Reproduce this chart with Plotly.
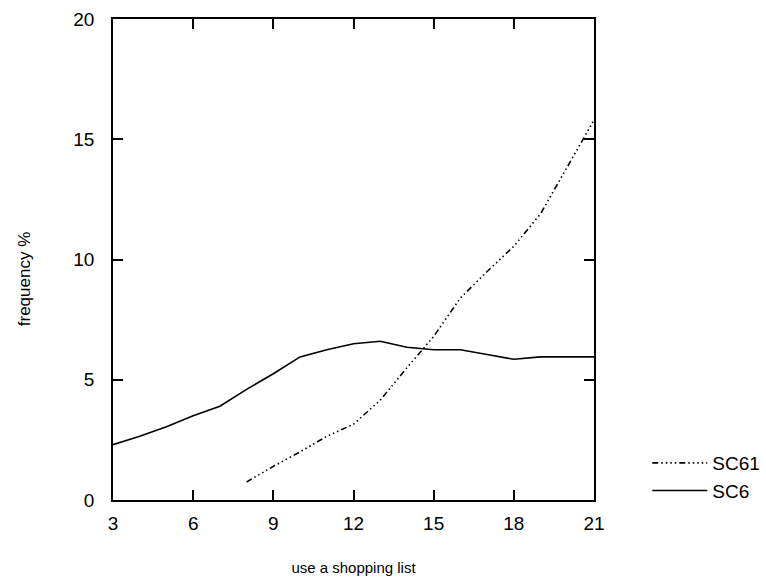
import plotly.graph_objects as go

# shopping-list usage (x) vs. frequency in percent for two samples
sc6_x = [3, 4, 5, 6, 7, 8, 9, 10, 11, 12, 13, 14, 15, 16, 17, 18, 19, 20, 21]
sc6_y = [2.3, 2.65, 3.05, 3.5, 3.9, 4.6, 5.25, 5.95, 6.25, 6.5, 6.6, 6.35,
         6.25, 6.25, 6.05, 5.85, 5.95, 5.95, 5.95]

sc61_x = [8, 9, 10, 11, 12, 13, 14, 15, 16, 17, 18, 19, 20, 21]
sc61_y = [0.75, 1.4, 2.0, 2.65, 3.15, 4.15, 5.5, 6.8, 8.4, 9.5, 10.55, 11.9,
          13.85, 15.8]

x_ticks = [3, 6, 9, 12, 15, 18, 21]
y_ticks = [0, 5, 10, 15, 20]

FONT = "Liberation Sans, Arial, sans-serif"

fig = go.Figure()
fig.add_trace(go.Scatter(
    x=sc61_x, y=sc61_y, mode="lines", name="SC61",
    line=dict(color="black", width=1.6,
              dash="6px,3px,1.5px,3px,1.5px,3px,1.5px,3px,1.5px,3px"),
))
fig.add_trace(go.Scatter(
    x=sc6_x, y=sc6_y, mode="lines", name="SC6",
    line=dict(color="black", width=1.6),
))

axis_common = dict(
    showgrid=False, zeroline=False, showline=True, linecolor="black",
    linewidth=1.6, mirror="ticks", ticks="inside", ticklen=10, tickwidth=1.6,
    tickcolor="black", tickfont=dict(family=FONT, size=19, color="black"),
    automargin=False,
)

fig.update_xaxes(range=[3, 21], tickvals=x_ticks, ticklabelstandoff=5,
                 title=dict(text="use a shopping list", standoff=30,
                            font=dict(family=FONT, size=15, color="black")),
                 **axis_common)
fig.update_yaxes(range=[0, 20], tickvals=y_ticks, ticklabelstandoff=13,
                 **axis_common)

# rotated y-axis caption, placed in the left margin
fig.add_annotation(
    text="frequency %", textangle=-90, showarrow=False,
    xref="paper", yref="paper", x=-0.185, y=0.459,
    xanchor="center", yanchor="middle",
    font=dict(family=FONT, size=17, color="black"),
)

fig.update_layout(
    width=766, height=581,
    margin=dict(l=113, r=172, t=19, b=81, autoexpand=False),
    paper_bgcolor="white", plot_bgcolor="white",
    showlegend=True,
    legend=dict(xref="container", yref="container",
                x=0.845, y=0.179, xanchor="left", yanchor="middle",
                font=dict(family=FONT, size=19, color="black"),
                itemwidth=55, tracegroupgap=0, bgcolor="rgba(0,0,0,0)"),
)

fig.write_html("out.html")
